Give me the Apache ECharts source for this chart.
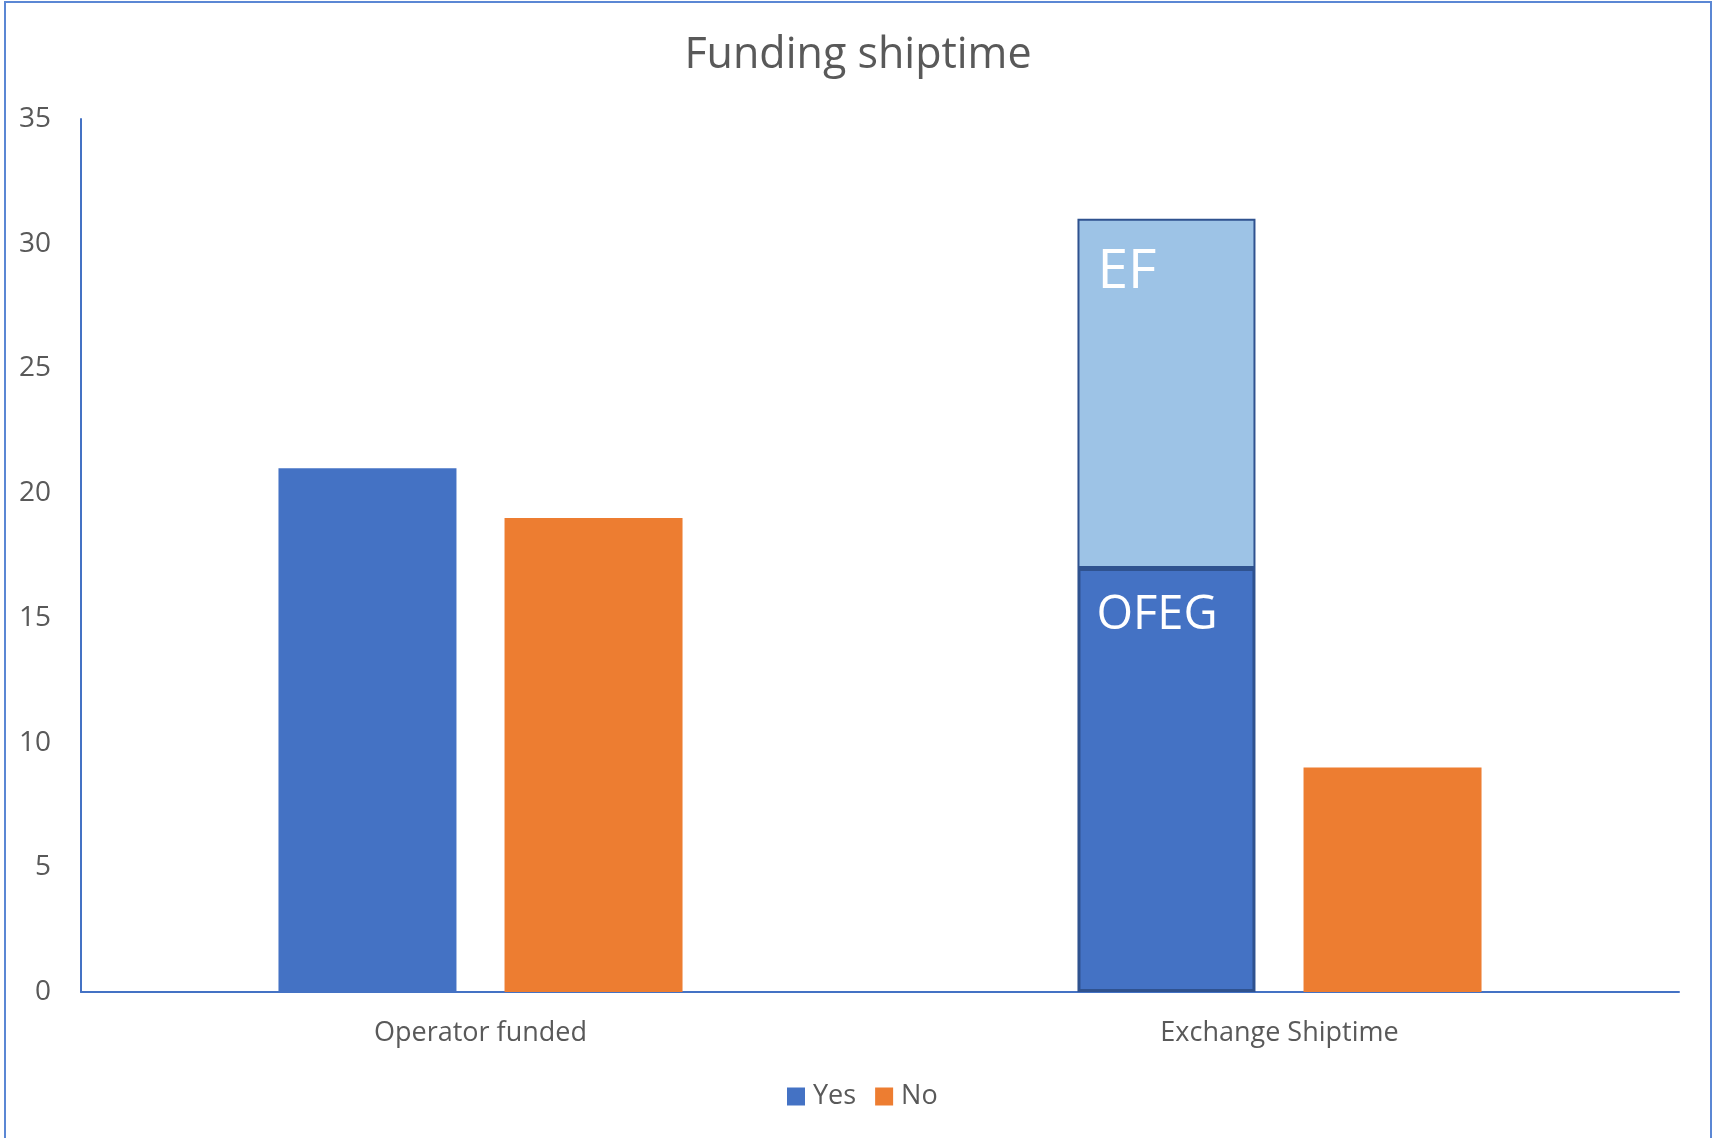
<!DOCTYPE html>
<html>
<head>
<meta charset="utf-8">
<script src="https://cdn.jsdelivr.net/npm/echarts@6/dist/echarts.min.js"></script>
<style>
  html, body { margin: 0; padding: 0; background: #fff; }
  #frame {
    position: absolute; left: 4px; top: 1px;
    width: 1708px; height: 1150px;
    box-sizing: border-box;
    border: 2px solid #5b87d4;
  }
  #chart { position: absolute; left: 0; top: 0; width: 1716px; height: 1138px; }
</style>
</head>
<body>
<div id="frame"></div>
<div id="chart"></div>
<script>
// data
const categories = ["Operator funded", "Exchange Shiptime"];
const yesValues = [21, 17];
const efValues = ["-", 14];
const noValues = [19, 9];
const yTicks = [0, 5, 10, 15, 20, 25, 30, 35];

const blue = "#4472c4";
const orange = "#ed7d31";
const lightBlue = "#9dc3e6";
const darkEdge = "#2f528f";
const textColor = "#595959";
const font = "Open Sans";

// the Exchange "Yes" bar is outlined and labelled OFEG
const yesData = yesValues.map((v, i) =>
  i === 1
    ? {
        value: v,
        itemStyle: { borderColor: darkEdge, borderWidth: 3 },
        label: { show: true, formatter: "OFEG" },
      }
    : { value: v }
);

const chart = echarts.init(document.getElementById("chart"));
chart.setOption({
  animation: false,
  textStyle: { fontFamily: font },
  title: {
    text: "Funding shiptime",
    left: "center",
    top: 29,
    textStyle: { fontFamily: font, fontSize: 43, fontWeight: "normal", color: textColor },
  },
  grid: { left: 81, right: 37, top: 119, bottom: 146 },
  legend: {
    data: ["Yes", "No"],
    bottom: 23,
    left: 782,
    icon: "rect",
    itemWidth: 18,
    itemHeight: 18,
    itemGap: 19,
    textStyle: { fontFamily: font, fontSize: 27, color: textColor, padding: [0, 0, 0, 3] },
  },
  xAxis: {
    type: "category",
    data: categories,
    axisLine: { lineStyle: { color: blue, width: 2 } },
    axisTick: { show: false },
    axisLabel: { fontFamily: font, fontSize: 27, color: textColor, margin: 28 },
  },
  yAxis: {
    type: "value",
    min: yTicks[0],
    max: yTicks[yTicks.length - 1],
    interval: 5,
    axisLine: { show: true, lineStyle: { color: blue, width: 2 } },
    axisTick: { show: false },
    splitLine: { show: false },
    axisLabel: { fontFamily: font, fontSize: 28, color: textColor, margin: 30 },
  },
  series: [
    {
      name: "Yes",
      type: "bar",
      stack: "yes",
      data: yesData,
      barWidth: 178,
      barGap: "27%",
      itemStyle: { color: blue },
      label: {
        show: false,
        position: [19, 24],
        color: "#fff",
        fontFamily: font,
        fontSize: 47,
      },
    },
    {
      name: "EF",
      type: "bar",
      stack: "yes",
      data: efValues,
      barWidth: 178,
      itemStyle: { color: lightBlue, borderColor: darkEdge, borderWidth: 2 },
      label: {
        show: true,
        formatter: "EF",
        position: [20, 26],
        color: "#fff",
        fontFamily: font,
        fontSize: 55,
      },
    },
    {
      name: "No",
      type: "bar",
      data: noValues,
      barWidth: 178,
      barGap: "27%",
      itemStyle: { color: orange },
    },
  ],
});
</script>
</body>
</html>
